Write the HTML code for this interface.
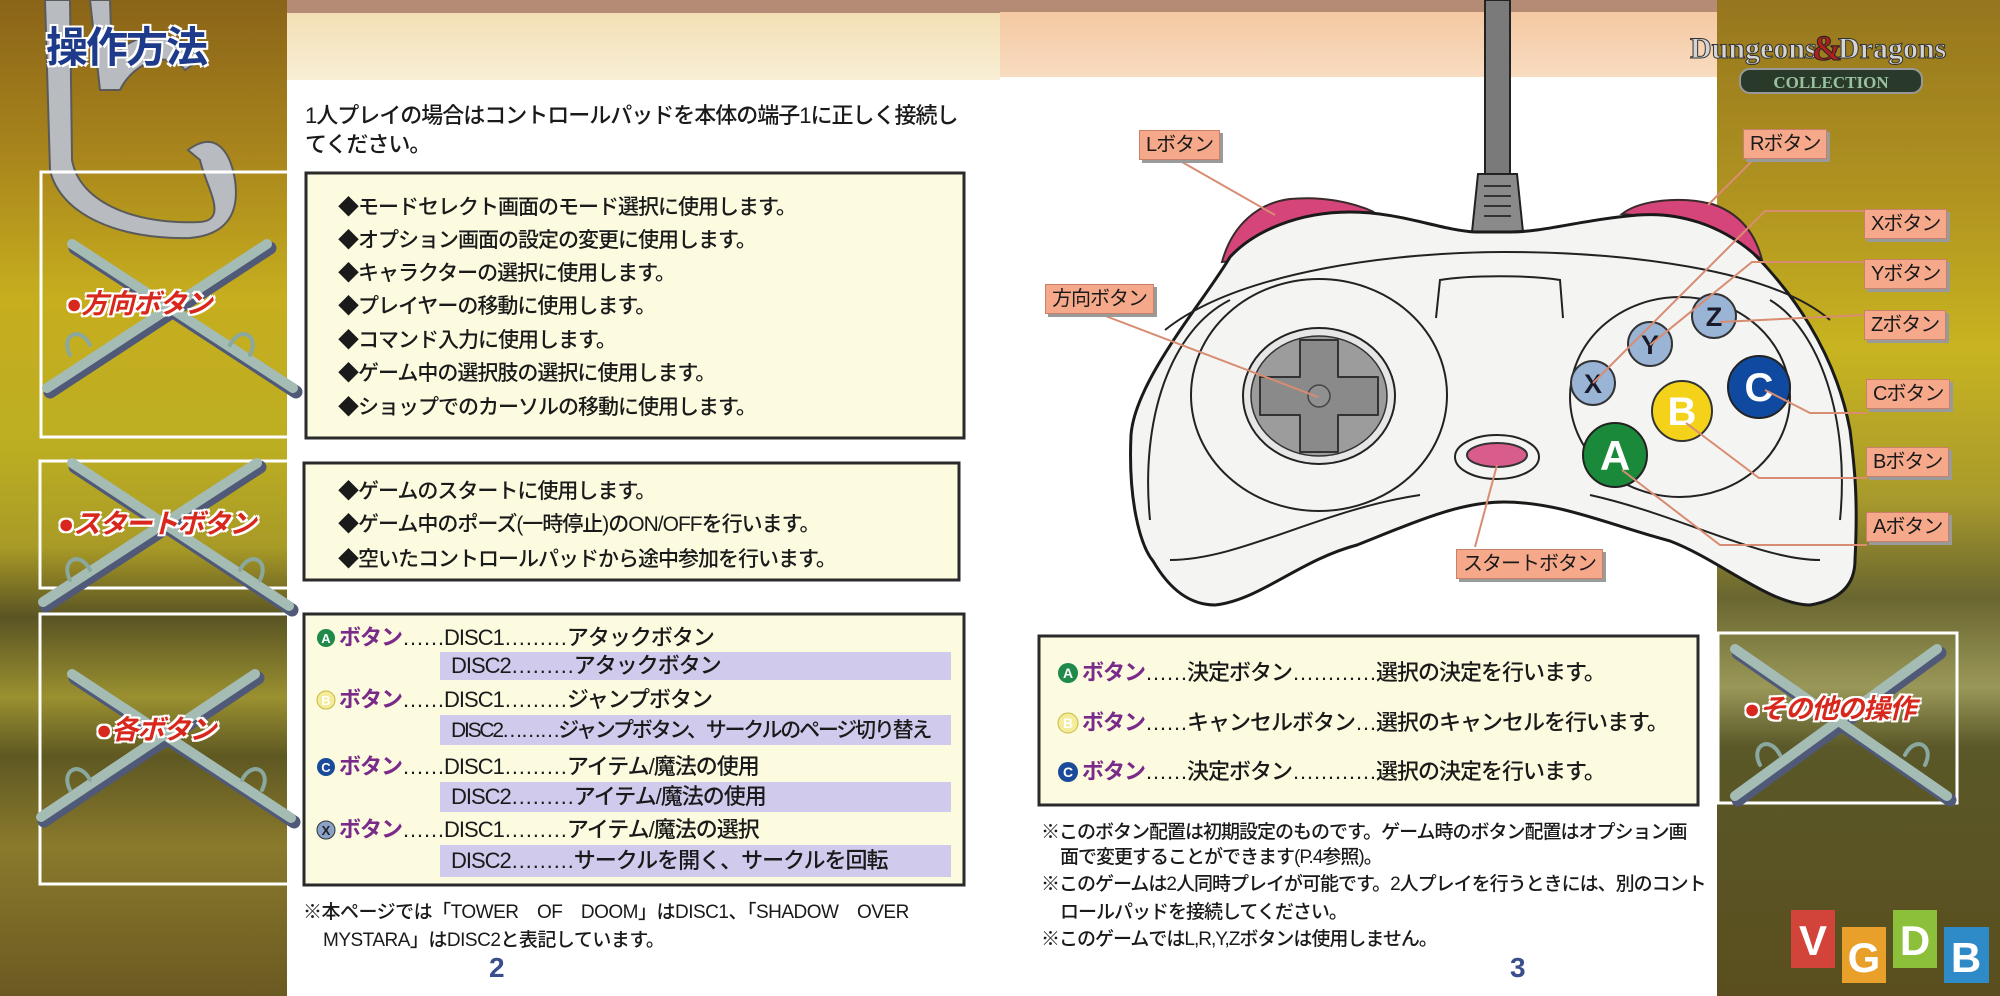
<!DOCTYPE html>
<html><head><meta charset="utf-8">
<style>
*{margin:0;padding:0;box-sizing:border-box}
body{width:2000px;height:996px;position:relative;overflow:hidden;background:#fff;font-family:"Liberation Sans","Noto Sans CJK JP",sans-serif;color:#1a1a1a}
.t{position:absolute;white-space:nowrap;line-height:1;font-weight:500}
.b1{font-size:21px;letter-spacing:-1px}
.p{color:#7a2a88;font-weight:bold}
.lbl{position:absolute;background:#f6a98a;border:1px solid #c98068;box-shadow:3px 3px 0 #9a9a9a;font-size:20px;line-height:28px;padding:0 6px;white-space:nowrap;letter-spacing:-1px}
.red{position:absolute;color:#d8281e;font-weight:bold;font-style:italic;font-size:27px;white-space:nowrap;line-height:1;letter-spacing:-1px;text-shadow:0 0 2px #fff,2px 2px 0 #fff,-2px -2px 0 #fff,2px -2px 0 #fff,-2px 2px 0 #fff,0 2px 0 #fff,0 -2px 0 #fff}
</style></head><body>
<svg width="2000" height="996" style="position:absolute;left:0;top:0">
<defs>
<linearGradient id="lg" x1="0" y1="0" x2="0" y2="1">
<stop offset="0" stop-color="#8a6418"/><stop offset="0.15" stop-color="#a8841c"/><stop offset="0.3" stop-color="#c6ae1e"/><stop offset="0.45" stop-color="#bcae22"/><stop offset="0.55" stop-color="#a89a26"/><stop offset="0.62" stop-color="#5a5424"/><stop offset="0.7" stop-color="#9a9030"/><stop offset="0.76" stop-color="#5e5822"/><stop offset="0.85" stop-color="#8a7a2c"/><stop offset="1" stop-color="#6a5a22"/>
</linearGradient>
<linearGradient id="rg" x1="0" y1="0" x2="0" y2="1">
<stop offset="0" stop-color="#96761e"/><stop offset="0.2" stop-color="#b09420"/><stop offset="0.35" stop-color="#c8b420"/><stop offset="0.5" stop-color="#a89a2c"/><stop offset="0.6" stop-color="#6a6630"/><stop offset="0.69" stop-color="#9a9858"/><stop offset="0.75" stop-color="#5a5828"/><stop offset="1" stop-color="#5a4e1e"/>
</linearGradient>
<linearGradient id="tl" x1="0" y1="0" x2="0" y2="1"><stop offset="0" stop-color="#f3dfb4"/><stop offset="1" stop-color="#f8efd6"/></linearGradient>
<linearGradient id="tr" x1="0" y1="0" x2="0" y2="1"><stop offset="0" stop-color="#f4c8a2"/><stop offset="1" stop-color="#f8dcc0"/></linearGradient>
</defs>
<rect x="0" y="0" width="287" height="996" fill="url(#lg)"/>
<rect x="1717" y="0" width="283" height="996" fill="url(#rg)"/>
<rect x="287" y="0" width="713" height="13" fill="#b48c76"/>
<rect x="287" y="13" width="713" height="67" fill="url(#tl)"/>
<rect x="1000" y="0" width="717" height="12" fill="#b48c76"/>
<rect x="1000" y="12" width="717" height="65" fill="url(#tr)"/>
<path d="M45,0 L70,0 L72,160 C80,205 140,225 200,222 C230,220 205,185 200,160 L188,150 C215,130 230,150 235,180 C240,215 225,235 190,238 C120,240 60,215 50,170 Z" fill="#b8bcc0" stroke="#5a5a5a" stroke-width="2"/>
<path d="M90,0 L110,0 L112,60 C130,30 180,25 200,60 L185,70 C170,50 135,60 120,90 L100,90 Z" fill="#b8bcc0" stroke="#5a5a5a" stroke-width="2"/>
<g fill="none" stroke="#fff" stroke-width="3">
<rect x="41" y="172" width="250" height="265"/>
<rect x="40" y="461" width="251" height="127"/>
<rect x="40" y="614" width="251" height="270"/>
<rect x="1718" y="633" width="239" height="170"/>
</g>
<g stroke-linecap="round">
<g stroke="#505a78" stroke-width="13">
<line x1="75" y1="248" x2="296" y2="392"/><line x1="270" y1="248" x2="50" y2="392"/>
<line x1="75" y1="467" x2="292" y2="610"/><line x1="260" y1="467" x2="46" y2="606"/>
<line x1="75" y1="678" x2="294" y2="822"/><line x1="258" y1="678" x2="44" y2="821"/>
<line x1="1738" y1="653" x2="1950" y2="800"/><line x1="1940" y1="653" x2="1738" y2="800"/>
</g>
<g stroke="#a4bcb4" stroke-width="10">
<line x1="72" y1="244" x2="293" y2="388"/><line x1="267" y1="244" x2="47" y2="388"/>
<line x1="72" y1="463" x2="289" y2="606"/><line x1="257" y1="463" x2="43" y2="602"/>
<line x1="72" y1="674" x2="291" y2="818"/><line x1="255" y1="674" x2="41" y2="817"/>
<line x1="1735" y1="649" x2="1947" y2="796"/><line x1="1937" y1="649" x2="1735" y2="796"/>
</g>
<g fill="none" stroke="#8aa8a0" stroke-width="4">
<path d="M70,355 c-10,-20 10,-30 20,-10 M250,355 c10,-20 -10,-30 -20,-10 M70,580 c-10,-20 10,-30 20,-10 M260,580 c10,-20 -10,-30 -20,-10 M70,790 c-10,-20 10,-30 20,-10 M262,790 c10,-20 -10,-30 -20,-10 M1760,765 c-10,-20 10,-30 20,-10 M1925,765 c10,-20 -10,-30 -20,-10"/>
</g>
</g>
<g stroke="#2a2a2a" stroke-width="3" fill="#fcfbe0">
<rect x="306" y="173" width="658" height="265"/>
<rect x="304" y="463" width="655" height="117"/>
<rect x="304" y="614" width="660" height="271"/>
<rect x="1039" y="636" width="659" height="169"/>
</g>
<g fill="#d0caec">
<rect x="440" y="652" width="511" height="28"/>
<rect x="440" y="715" width="511" height="30"/>
<rect x="440" y="782" width="511" height="30"/>
<rect x="440" y="845" width="511" height="32"/>
</g>
<text x="489" y="977" font-family="Liberation Sans" font-weight="bold" font-size="28" fill="#3a4d8c">2</text>
<text x="1510" y="977" font-family="Liberation Sans" font-weight="bold" font-size="28" fill="#3a4d8c">3</text>
<rect x="1485" y="0" width="25" height="176" fill="#7a7a7a" stroke="#222" stroke-width="2"/>
<path d="M1478,174 L1517,174 L1523,232 L1472,232 Z" fill="#8a8a8a" stroke="#222" stroke-width="2"/>
<g stroke="#333" stroke-width="2"><line x1="1484" y1="186" x2="1511" y2="186"/><line x1="1484" y1="196" x2="1511" y2="196"/><line x1="1484" y1="206" x2="1511" y2="206"/><line x1="1484" y1="216" x2="1511" y2="216"/></g>
<path d="M1222,262 C1232,225 1258,203 1290,199 C1322,196 1352,202 1374,212 C1320,214 1268,228 1240,260 Z" fill="#d6457a" stroke="#3a2a2a" stroke-width="2"/>
<path d="M1622,214 C1640,200 1680,196 1712,204 C1742,214 1756,236 1762,260 C1740,240 1700,220 1622,214 Z" fill="#d6457a" stroke="#3a2a2a" stroke-width="2"/>
<path d="M1230,257 C1205,300 1135,380 1131,435 C1128,500 1140,545 1153,561 C1170,590 1190,605 1215,605 C1260,600 1300,560 1357,545 C1420,520 1460,502 1504,502 C1560,502 1610,525 1670,541 C1720,560 1770,605 1810,605 C1840,600 1855,585 1855,560 C1858,500 1855,470 1850,430 C1835,350 1790,290 1753,253 C1720,225 1680,212 1638,215 C1580,220 1545,232 1510,232 L1475,232 C1440,230 1400,212 1350,212 C1300,212 1255,230 1230,257 Z" fill="#f4f4f2" stroke="#1a1a1a" stroke-width="3"/>
<g fill="none" stroke="#222" stroke-width="2">
<path d="M1165,330 C1240,270 1400,252 1504,252 C1620,252 1770,268 1830,320"/>
<path d="M1150,520 C1140,420 1170,330 1230,300 M1840,520 C1850,420 1820,330 1770,300"/>
<path d="M1170,560 C1240,560 1320,510 1420,495 M1820,560 C1760,560 1680,515 1590,495"/>
<ellipse cx="1319" cy="395" rx="128" ry="116"/>
<ellipse cx="1680" cy="397" rx="110" ry="100"/>
<path d="M1436,318 L1440,280 C1470,275 1530,275 1560,280 L1563,318"/>
<ellipse cx="1497" cy="457" rx="42" ry="22"/>
</g>
<ellipse cx="1319" cy="396" rx="76" ry="68" fill="#e6e6e6" stroke="#222" stroke-width="2"/>
<ellipse cx="1319" cy="396" rx="68" ry="60" fill="#9c9c9c" stroke="#333" stroke-width="1.5"/>
<path d="M1300,340 h38 v37 h40 v38 h-40 v37 h-38 v-37 h-40 v-38 h40 z" fill="#8a8a8a" stroke="#333" stroke-width="2" stroke-linejoin="round"/>
<circle cx="1319" cy="396" r="11" fill="#909090" stroke="#444" stroke-width="1.5"/>
<ellipse cx="1497" cy="455" rx="30" ry="12" fill="#d85c8c" stroke="#333" stroke-width="2"/>
<g font-family="Liberation Sans" font-weight="bold" text-anchor="middle">
<circle cx="1593" cy="383" r="22" fill="#9ab4d6" stroke="#333" stroke-width="2"/><text x="1593" y="393" font-size="27" fill="#1a1a2a">X</text>
<circle cx="1650" cy="344" r="22" fill="#9ab4d6" stroke="#333" stroke-width="2"/><text x="1650" y="354" font-size="27" fill="#1a1a2a">Y</text>
<circle cx="1714" cy="316" r="22" fill="#9ab4d6" stroke="#333" stroke-width="2"/><text x="1714" y="326" font-size="27" fill="#1a1a2a">Z</text>
<circle cx="1759" cy="387" r="31" fill="#0f4aa0" stroke="#222" stroke-width="2"/><text x="1759" y="401" font-size="40" fill="#fff">C</text>
<circle cx="1682" cy="411" r="30" fill="#f5d21a" stroke="#333" stroke-width="2"/><text x="1682" y="425" font-size="40" fill="#fff">B</text>
<circle cx="1615" cy="455" r="32" fill="#1a8a3a" stroke="#222" stroke-width="2"/><text x="1615" y="470" font-size="42" fill="#fff">A</text>
</g>
<g fill="none" stroke="#d88c72" stroke-width="2">
<path d="M1175,158 L1275,215"/>
<path d="M1095,312 L1318,397"/>
<path d="M1497,465 L1475,547"/>
<path d="M1755,158 L1708,205"/>
<path d="M1864,211 L1765,211 L1593,383"/>
<path d="M1864,262 L1752,262 L1650,345"/>
<path d="M1864,315 L1720,322"/>
<path d="M1765,390 L1810,413 L1867,413"/>
<path d="M1686,423 L1759,478 L1867,478"/>
<path d="M1622,470 L1720,545 L1867,545"/>
</g>
<text x="1690" y="58" font-family="Liberation Serif" font-size="30" font-weight="bold" fill="#d4d4d4" stroke="#333" stroke-width="1">Dungeons</text>
<text x="1812" y="60" font-family="Liberation Serif" font-size="36" font-weight="bold" fill="#b02020" stroke="#222" stroke-width="1">&amp;</text>
<text x="1838" y="58" font-family="Liberation Serif" font-size="30" font-weight="bold" fill="#d4d4d4" stroke="#333" stroke-width="1">Dragons</text>
<rect x="1740" y="69" width="182" height="24" rx="10" fill="#2a3a2a" stroke="#999" stroke-width="2"/>
<text x="1831" y="88" text-anchor="middle" font-family="Liberation Serif" font-size="17" font-weight="bold" fill="#9ac0a0">COLLECTION</text>
<g font-family="Liberation Sans" font-weight="bold" font-size="42" fill="#fff" text-anchor="middle">
<rect x="1791" y="910" width="44" height="58" fill="#d2443a"/><text x="1813" y="955">V</text>
<rect x="1842" y="927" width="44" height="56" fill="#e8a02a"/><text x="1864" y="972">G</text>
<rect x="1893" y="910" width="44" height="58" fill="#8cbf3a"/><text x="1915" y="955">D</text>
<rect x="1944" y="927" width="45" height="56" fill="#2e8bc8"/><text x="1966" y="972">B</text>
</g>
</svg>

<div class="t" style="left:46px;top:27px;font-size:42px;font-weight:bold;color:#1e3a8a;text-shadow:2px 2px 0 #fff,-2px -2px 0 #fff,2px -2px 0 #fff,-2px 2px 0 #fff;letter-spacing:-2px">操作方法</div>
<div class="red" style="left:66px;top:291px">●方向ボタン</div>
<div class="red" style="left:58px;top:511px">●スタートボタン</div>
<div class="red" style="left:96px;top:717px">●各ボタン</div>
<div class="red" style="left:1744px;top:696px">●その他の操作</div>

<div class="t" style="left:305px;top:105px;font-size:22px;letter-spacing:-1px">1人プレイの場合はコントロールパッドを本体の端子1に正しく接続し</div>
<div class="t" style="left:305px;top:134px;font-size:22px;letter-spacing:-1px">てください。</div>

<div class="t b1" style="left:338px;top:197px">◆モードセレクト画面のモード選択に使用します。</div>
<div class="t b1" style="left:338px;top:230px">◆オプション画面の設定の変更に使用します。</div>
<div class="t b1" style="left:338px;top:263px">◆キャラクターの選択に使用します。</div>
<div class="t b1" style="left:338px;top:296px">◆プレイヤーの移動に使用します。</div>
<div class="t b1" style="left:338px;top:330px">◆コマンド入力に使用します。</div>
<div class="t b1" style="left:338px;top:363px">◆ゲーム中の選択肢の選択に使用します。</div>
<div class="t b1" style="left:338px;top:397px">◆ショップでのカーソルの移動に使用します。</div>
<div class="t b1" style="left:338px;top:481px">◆ゲームのスタートに使用します。</div>
<div class="t b1" style="left:338px;top:514px">◆ゲーム中のポーズ(一時停止)のON/OFFを行います。</div>
<div class="t b1" style="left:338px;top:549px">◆空いたコントロールパッドから途中参加を行います。</div>

<svg width="2000" height="996" style="position:absolute;left:0;top:0" font-family="Liberation Sans" font-weight="bold" text-anchor="middle">
<circle cx="326" cy="638" r="9" fill="#1f8a4a"/><text x="326" y="643" font-size="13" fill="#fff">A</text>
<circle cx="326" cy="700" r="9" fill="#f4ec9a" stroke="#c8b840"/><text x="326" y="705" font-size="13" fill="#fff">B</text>
<circle cx="326" cy="767" r="9" fill="#1a4a9a"/><text x="326" y="772" font-size="13" fill="#fff">C</text>
<circle cx="326" cy="830" r="9" fill="#8aa2c8" stroke="#333"/><text x="326" y="835" font-size="13" fill="#222">X</text>
<circle cx="1068" cy="673" r="10" fill="#1f8a4a"/><text x="1068" y="678" font-size="14" fill="#fff">A</text>
<circle cx="1068" cy="723" r="10" fill="#f4ec9a" stroke="#c8b840"/><text x="1068" y="728" font-size="14" fill="#fff">B</text>
<circle cx="1068" cy="772" r="10" fill="#1a4a9a"/><text x="1068" y="777" font-size="14" fill="#fff">C</text>
</svg>
<div class="t" style="left:339px;top:627px;font-size:22px;letter-spacing:-1px"><span class="p">ボタン</span>……DISC1………アタックボタン</div>
<div class="t" style="left:451px;top:655px;font-size:22px;letter-spacing:-1px">DISC2………アタックボタン</div>
<div class="t" style="left:339px;top:689px;font-size:22px;letter-spacing:-1px"><span class="p">ボタン</span>……DISC1………ジャンプボタン</div>
<div class="t" style="left:451px;top:720px;font-size:21px;letter-spacing:-2.2px">DISC2………ジャンプボタン、サークルのページ切り替え</div>
<div class="t" style="left:339px;top:756px;font-size:22px;letter-spacing:-1px"><span class="p">ボタン</span>……DISC1………アイテム/魔法の使用</div>
<div class="t" style="left:451px;top:786px;font-size:22px;letter-spacing:-1px">DISC2………アイテム/魔法の使用</div>
<div class="t" style="left:339px;top:819px;font-size:22px;letter-spacing:-1px"><span class="p">ボタン</span>……DISC1………アイテム/魔法の選択</div>
<div class="t" style="left:451px;top:850px;font-size:22px;letter-spacing:-1px">DISC2………サークルを開く、サークルを回転</div>

<div class="t" style="left:303px;top:903px;font-size:19px;letter-spacing:-0.5px">※本ページでは「TOWER　OF　DOOM」はDISC1、「SHADOW　OVER</div>
<div class="t" style="left:323px;top:931px;font-size:19px;letter-spacing:-0.5px">MYSTARA」はDISC2と表記しています。</div>

<div class="t" style="left:1082px;top:662px;font-size:22px;letter-spacing:-1px"><span class="p">ボタン</span>……決定ボタン…………選択の決定を行います。</div>
<div class="t" style="left:1082px;top:712px;font-size:22px;letter-spacing:-1px"><span class="p">ボタン</span>……キャンセルボタン…選択のキャンセルを行います。</div>
<div class="t" style="left:1082px;top:761px;font-size:22px;letter-spacing:-1px"><span class="p">ボタン</span>……決定ボタン…………選択の決定を行います。</div>

<div class="t" style="left:1041px;top:823px;font-size:19px;letter-spacing:-1px">※このボタン配置は初期設定のものです。ゲーム時のボタン配置はオプション画</div>
<div class="t" style="left:1060px;top:848px;font-size:19px;letter-spacing:-1px">面で変更することができます(P.4参照)。</div>
<div class="t" style="left:1041px;top:875px;font-size:19px;letter-spacing:-1px">※このゲームは2人同時プレイが可能です。2人プレイを行うときには、別のコント</div>
<div class="t" style="left:1060px;top:903px;font-size:19px;letter-spacing:-1px">ロールパッドを接続してください。</div>
<div class="t" style="left:1041px;top:930px;font-size:19px;letter-spacing:-1px">※このゲームではL,R,Y,Zボタンは使用しません。</div>

<div class="lbl" style="left:1139px;top:130px">Lボタン</div>
<div class="lbl" style="left:1743px;top:129px">Rボタン</div>
<div class="lbl" style="left:1864px;top:209px">Xボタン</div>
<div class="lbl" style="left:1864px;top:259px">Yボタン</div>
<div class="lbl" style="left:1864px;top:310px">Zボタン</div>
<div class="lbl" style="left:1866px;top:379px">Cボタン</div>
<div class="lbl" style="left:1866px;top:447px">Bボタン</div>
<div class="lbl" style="left:1866px;top:512px">Aボタン</div>
<div class="lbl" style="left:1045px;top:284px">方向ボタン</div>
<div class="lbl" style="left:1456px;top:549px">スタートボタン</div>
</body></html>
